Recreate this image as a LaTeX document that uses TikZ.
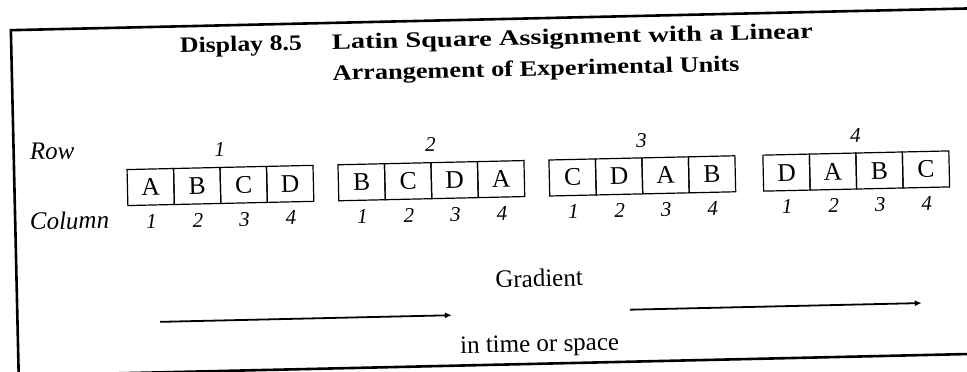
\documentclass[tikz,border=0pt]{standalone}
\usepackage{fontspec}
\setmainfont{Liberation Serif}
\usetikzlibrary{arrows.meta}
\begin{document}
\begin{tikzpicture}[x=1pt,y=-1pt,
  frame/.style={draw, line width=2.6pt},
  cell/.style={draw, line width=1.2pt, minimum width=46.5pt, minimum height=36pt, inner sep=0pt, font=\fontsize{25.5}{26}\selectfont},
  axislab/.style={inner sep=0pt, anchor=base west, font=\fontsize{25}{26}\selectfont\itshape},
  numlab/.style={inner sep=0pt, anchor=base, font=\fontsize{21}{22}\selectfont\itshape},
  titletext/.style={inner sep=0pt, anchor=base west, font=\fontsize{22}{23}\selectfont\bfseries},
  bodytext/.style={inner sep=0pt, anchor=base, font=\fontsize{25}{26}\selectfont},
  gradarrow/.style={line width=1.8pt, -{Latex[length=7pt,width=6pt]}}]
\useasboundingbox (0,0) rectangle (967,372);
\clip (0,0) rectangle (967,372);
\begin{scope}[rotate around={1.3:(483,186)}, transform shape]
  \draw[frame] (14.5,19.5) rectangle (1100,365);
  % title
  \node[titletext] (disp) at (183,46) {\resizebox{122pt}{\height}{Display 8.5}};
  \node[titletext] (t1) at (335,46) {\resizebox{481pt}{\height}{Latin Square Assignment with a Linear}};
  \node[titletext] (t2) at (335,77) {\resizebox{407pt}{\height}{Arrangement of Experimental Units}};
  % axis labels
  \node[axislab] (row) at (30.6,149.7) {Row};
  \node[axislab] (col) at (29,219.7) {Column};
  % groups
  \foreach \g/\left/\letters in {1/127.5/{A,B,C,D}, 2/338.5/{B,C,D,A}, 3/549.5/{C,D,A,B}, 4/763.5/{D,A,B,C}} {
    \node[numlab] (r\g) at ({\left+93},150.5) {\g};
    \foreach \L [count=\i] in \letters {
      \node[cell] (g\g c\i) at ({\left+23.25+46.5*(\i-1)},179.5) {\L};
      \node[numlab] (n\g c\i) at ({\left+23.25+46.5*(\i-1)},220.5) {\i};
    }
  }
  % gradient
  \node[bodytext] (grad) at (537,288) {Gradient};
  \node[bodytext] (space) at (536,353) {in time or space};
  \coordinate (a1s) at (157,314.5);
  \coordinate (a1e) at (449,314.5);
  \coordinate (a2s) at (627,313);
  \coordinate (a2e) at (919,313);
  \draw[gradarrow] (a1s) -- (a1e);
  \draw[gradarrow] (a2s) -- (a2e);
\end{scope}
\end{tikzpicture}
\end{document}
